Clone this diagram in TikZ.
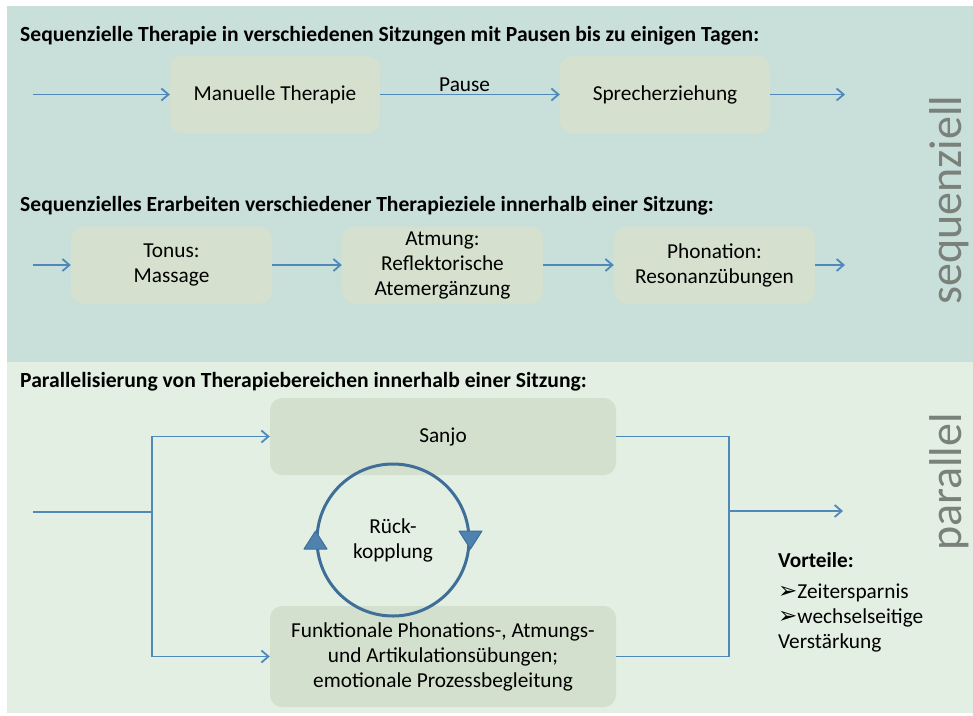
\documentclass[tikz,border=0pt]{standalone}
\usepackage{fontspec}
\setmainfont{Carlito}
\newfontfamily\symfont{DejaVu Sans}
\usetikzlibrary{arrows.meta}
\definecolor{seqbg}{HTML}{C9DFDA}
\definecolor{parbg}{HTML}{E2EFE2}
\definecolor{boxA}{HTML}{D5E1CE}
\definecolor{boxB}{HTML}{D4E0CE}
\definecolor{conncol}{HTML}{5188BA}
\definecolor{cyccol}{HTML}{3F6F99}
\definecolor{trifill}{HTML}{4F82AF}
\definecolor{labgray}{HTML}{7A807A}
\newcommand{\bodyfont}{\fontsize{21.3}{25}\selectfont}
\newcommand{\titlefont}{\fontsize{21.6}{25}\selectfont\bfseries}
\newcommand{\bul}{{\symfont\fontsize{23}{23}\selectfont ➢}}
\begin{document}
\begin{tikzpicture}[x=1pt,y=-1pt,
  box/.style={rounded corners=12pt, inner sep=0pt, align=center, font=\bodyfont},
  seqbox/.style={box, fill=boxA, minimum height=77pt},
  parbox/.style={box, fill=boxB, minimum width=346pt},
  conn/.style={draw=conncol, line width=1.3pt},
  arr/.style={conn, -{Straight Barb[length=7pt,width=12pt,line width=1.8pt]}},
  title/.style={anchor=base west, inner sep=0pt, font=\titlefont},
  txt/.style={anchor=base west, inner sep=0pt, font=\bodyfont},
  vlabel/.style={rotate=90, inner sep=0pt, text=labgray, font=\fontsize{46}{46}\selectfont}
]
\useasboundingbox (0,0) rectangle (973,715);
\fill[white] (0,0) rectangle (973,715);
\fill[seqbg] (7,6) rectangle (973,362);
\fill[parbg] (7,362) rectangle (973,713);

% vertical labels
\node[vlabel] (lseq) at (949,200) {sequenziell};
\node[vlabel] (lpar) at (949,482) {parallel};

% row 1
\node[title] (t1) at (20,41) {Sequenzielle Therapie in verschiedenen Sitzungen mit Pausen bis zu einigen Tagen:};
\node[seqbox, minimum width=210pt] (man) at (275,94.5) {Manuelle Therapie};
\node[seqbox, minimum width=210pt] (spr) at (665,94.5) {Sprecherziehung};
\coordinate (in1) at (33,94.5);
\coordinate (out1) at (845,94.5);
\draw[arr] (in1) -- (man);
\draw[arr] (man) -- node[pos=0.47, anchor=base, inner sep=0pt, yshift=3pt, font=\bodyfont] (pause) {Pause} (spr);
\draw[arr] (spr) -- (out1);

% row 2
\node[title] (t2) at (20,211) {Sequenzielles Erarbeiten verschiedener Therapieziele innerhalb einer Sitzung:};
\node[seqbox, minimum width=201pt] (ton) at (171.5,265) {Tonus:\\Massage};
\node[seqbox, minimum width=201pt] (atm) at (442.5,265) {Atmung:\\Reflektorische\\Atemergänzung};
\node[seqbox, minimum width=201pt] (pho) at (714.5,265) {Phonation:\\Resonanzübungen};
\coordinate (in2) at (33,265);
\coordinate (out2) at (845,265);
\draw[arr] (in2) -- (ton);
\draw[arr] (ton) -- (atm);
\draw[arr] (atm) -- (pho);
\draw[arr] (pho) -- (out2);

% parallel
\node[title] (t3) at (20,387) {Parallelisierung von Therapiebereichen innerhalb einer Sitzung:};
\node[parbox, minimum height=77pt] (san) at (443,436.5) {Sanjo};
\node[parbox, minimum height=101pt] (fun) at (443,656.5) {Funktionale Phonations-, Atmungs-\\und Artikulationsübungen;\\emotionale Prozessbegleitung};
\coordinate (in3) at (33,512);
\coordinate (split) at (152,512);
\coordinate (merge) at (729,511);
\coordinate (out3) at (843,511);
\draw[conn] (in3) -- (split);
\draw[arr] (split) |- (san.west);
\draw[arr] (split) |- (fun.west);
\draw[conn] (san.east) -| (merge);
\draw[conn] (fun.east) -| (merge);
\draw[arr] (merge) -- (out3);

% feedback cycle
\node[circle, draw=cyccol, line width=3pt, minimum size=152pt, inner sep=0pt, align=center, font=\bodyfont] (cyc) at (393,540) {Rück-\\kopplung};
\filldraw[fill=trifill, draw=cyccol, line width=1pt, line join=round] (cyc.east) ++(-11.5,-9) -- ++(23,0) -- ++(-11.5,18) -- cycle;
\filldraw[fill=trifill, draw=cyccol, line width=1pt, line join=round] (cyc.west) ++(-11.5,9) -- ++(23,0) -- ++(-11.5,-18) -- cycle;

% advantages
\node[anchor=base west, inner sep=0pt, font=\bodyfont\bfseries] (vor) at (778,567) {Vorteile:};
\node[txt] (z1) at (778,598) {\bul Zeitersparnis};
\node[txt] (z2) at (778,623) {\bul wechselseitige};
\node[txt] (z3) at (778,648) {Verstärkung};
\end{tikzpicture}
\end{document}
